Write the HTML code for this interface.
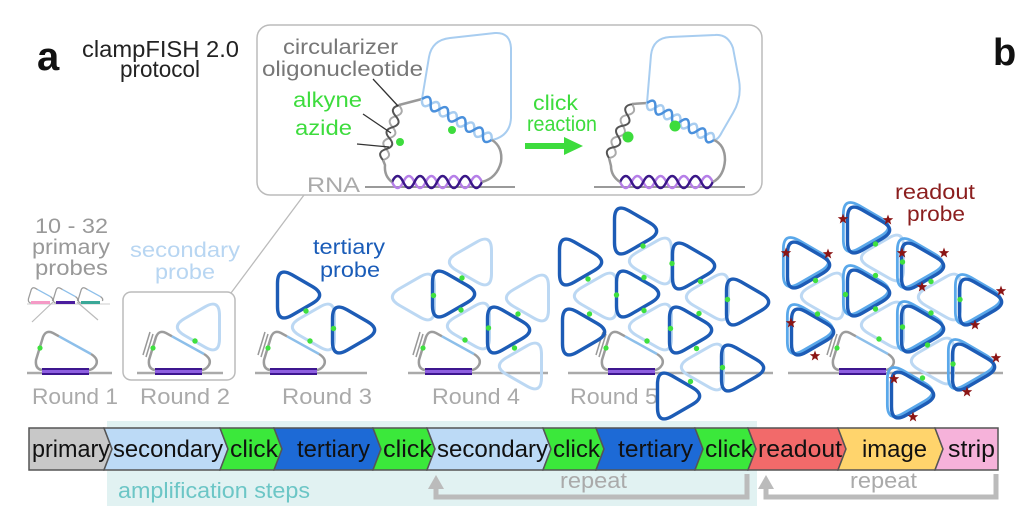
<!DOCTYPE html>
<html>
<head>
<meta charset="utf-8">
<style>
html,body{margin:0;padding:0;background:#fff;}
body{width:1024px;height:509px;overflow:hidden;}
svg{display:block;}
text{font-family:"Liberation Sans",Arial,sans-serif;}
</style>
</head>
<body>
<svg width="1024" height="509" viewBox="0 0 1024 509" xmlns="http://www.w3.org/2000/svg">
<defs>
  <path id="tr" d="M18.3,8.5 L-1.8,20.1 Q-16.5,28.6 -16.5,11.6 L-16.5,-11.6 Q-16.5,-28.6 -1.8,-20.1 L18.3,-8.5 Q33,0 18.3,8.5Z"/>
  <path id="tl" d="M-18.3,8.5 L1.8,20.1 Q16.5,28.6 16.5,11.6 L16.5,-11.6 Q16.5,-28.6 1.8,-20.1 L-18.3,-8.5 Q-33,0 -18.3,8.5Z"/>
  <g id="pr">
    <path d="M24,336.3 L18,333 Q11,329.5 8,337 L1,360 Q0,369 7,370" stroke="#9c9c9c" stroke-width="2.5" fill="none"/>
    <path d="M24,336.3 L56,354" stroke="#8dbfea" stroke-width="2.5" fill="none"/>
    <path d="M56,354 Q64,359 61,365 Q58,370 53,370" stroke="#9c9c9c" stroke-width="2.5" fill="none"/>
    <rect x="7" y="368.5" width="47" height="6" fill="#8d5ee0"/>
    <path d="M7,369 L54,369 M7,374 L54,374" stroke="#3d168f" stroke-width="2"/>
    <circle cx="5" cy="348" r="2.6" fill="#3fe03f"/>
  </g>
  <path id="cm" d="M-2,357 L5,334 M-5,355 L2,332" stroke="#999" stroke-width="1.5" fill="none"/>
  <polygon id="st" points="0,-5.5 1.35,-1.86 5.23,-1.7 2.19,0.71 3.23,4.45 0,2.3 -3.23,4.45 -2.19,0.71 -5.23,-1.7 -1.35,-1.86"/>
</defs>

<!-- panel labels -->
<text x="37" y="70" font-size="40" font-weight="bold" fill="#111">a</text>
<text x="993" y="65" font-size="38" font-weight="bold" fill="#111">b</text>
<text x="82" y="57" font-size="23" fill="#222" textLength="157" lengthAdjust="spacingAndGlyphs">clampFISH 2.0</text>
<text x="120" y="77" font-size="23" fill="#222" textLength="80" lengthAdjust="spacingAndGlyphs">protocol</text>

<!-- inset box -->
<rect x="257" y="25" width="505" height="170" rx="13" fill="#fff" stroke="#bbb" stroke-width="1.5"/>
<text x="283" y="54" font-size="21" fill="#777" textLength="115" lengthAdjust="spacingAndGlyphs">circularizer</text>
<text x="262" y="76" font-size="21" fill="#777" textLength="161" lengthAdjust="spacingAndGlyphs">oligonucleotide</text>
<text x="293" y="107" font-size="21" fill="#3ddc3d" textLength="69" lengthAdjust="spacingAndGlyphs">alkyne</text>
<text x="295" y="135" font-size="21" fill="#3ddc3d" textLength="57" lengthAdjust="spacingAndGlyphs">azide</text>
<text x="307" y="192" font-size="21" fill="#aaa" textLength="53" lengthAdjust="spacingAndGlyphs">RNA</text>
<text x="533" y="110" font-size="21" fill="#3ddc3d" textLength="45" lengthAdjust="spacingAndGlyphs">click</text>
<text x="527" y="131" font-size="21" fill="#3ddc3d" textLength="70" lengthAdjust="spacingAndGlyphs">reaction</text>
<path d="M525,146 L567,146" stroke="#3ddc3d" stroke-width="6"/>
<polygon points="564,137 583,146 564,155" fill="#3ddc3d"/>

<!-- left inset diagram -->
<path d="M365,187 L515,187" stroke="#9a9a9a" stroke-width="2"/>
<g transform="translate(392,182)" fill="none" stroke-width="2.5">
  <path d="M0,0 q5.6,12 11.25,0 t11.25,0 t11.25,0 t11.25,0 t11.25,0 t11.25,0 t11.25,0 t11.25,0" stroke="#b67fe8"/>
  <path d="M0,0 q5.6,-12 11.25,0 t11.25,0 t11.25,0 t11.25,0 t11.25,0 t11.25,0 t11.25,0 t11.25,0" stroke="#3a1788"/>
</g>
<path d="M392,182 Q384,176 385,165 L383,160" stroke="#999" stroke-width="2.5" fill="none"/>
<g transform="translate(383,160) rotate(-73.8)" fill="none" stroke-width="2">
  <path d="M0,0 q5.7,9 11.4,0 t11.4,0 t11.4,0 t11.4,0 t11.4,0" stroke="#aaa"/>
  <path d="M0,0 q5.7,-9 11.4,0 t11.4,0 t11.4,0 t11.4,0 t11.4,0" stroke="#555"/>
</g>
<path d="M399,105 L422,99" stroke="#999" stroke-width="2.5"/>
<path d="M422,99 L429,57 Q432,40 450,38 L495,33 Q510,32 511,48 L511,118 Q510,136 492,140" stroke="#a8cdf0" stroke-width="2" fill="none"/>
<g transform="translate(422,99) rotate(30.4)" fill="none" stroke-width="2.5">
  <path d="M0,0 q5,10 10.1,0 t10.1,0 t10.1,0 t10.1,0 t10.1,0 t10.1,0 t10.1,0 t10.1,0" stroke="#a8cdf0"/>
  <path d="M0,0 q5,-10 10.1,0 t10.1,0 t10.1,0 t10.1,0 t10.1,0 t10.1,0 t10.1,0 t10.1,0" stroke="#4a90dc"/>
</g>
<path d="M482,182 Q497,178 501,162 Q503,147 492,140" stroke="#999" stroke-width="2.5" fill="none"/>
<circle cx="400" cy="142" r="4" fill="#3ddc3d"/>
<circle cx="452" cy="130" r="4" fill="#3ddc3d"/>
<path d="M373,79 L398,106 M363,114 L391,133 M357,144 L389,147" stroke="#333" stroke-width="1.3" fill="none"/>

<!-- right inset diagram -->
<path d="M594,187 L745,187" stroke="#9a9a9a" stroke-width="2"/>
<g transform="translate(620,182)" fill="none" stroke-width="2.5">
  <path d="M0,0 q5.8,12 11.6,0 t11.6,0 t11.6,0 t11.6,0 t11.6,0 t11.6,0 t11.6,0 t11.6,0" stroke="#b67fe8"/>
  <path d="M0,0 q5.8,-12 11.6,0 t11.6,0 t11.6,0 t11.6,0 t11.6,0 t11.6,0 t11.6,0 t11.6,0" stroke="#3a1788"/>
</g>
<path d="M620,182 Q611,176 611,166 L609,158" stroke="#999" stroke-width="2.5" fill="none"/>
<g transform="translate(609,158) rotate(-66.9)" fill="none" stroke-width="2">
  <path d="M0,0 q5.85,9 11.7,0 t11.7,0 t11.7,0 t11.7,0 t11.7,0" stroke="#aaa"/>
  <path d="M0,0 q5.85,-9 11.7,0 t11.7,0 t11.7,0 t11.7,0 t11.7,0" stroke="#555"/>
</g>
<path d="M632,104 L647,103" stroke="#999" stroke-width="2.5"/>
<path d="M647,103 L651,55 Q653,38 670,37 L715,35 Q728,34 733,48 L739,80 Q742,98 733,113 L722,132 Q718,140 714,140" stroke="#a8cdf0" stroke-width="2" fill="none"/>
<g transform="translate(647,103) rotate(28.9)" fill="none" stroke-width="2.5">
  <path d="M0,0 q4.8,10 9.56,0 t9.56,0 t9.56,0 t9.56,0 t9.56,0 t9.56,0 t9.56,0 t9.56,0" stroke="#a8cdf0"/>
  <path d="M0,0 q4.8,-10 9.56,0 t9.56,0 t9.56,0 t9.56,0 t9.56,0 t9.56,0 t9.56,0 t9.56,0" stroke="#4a90dc"/>
</g>
<path d="M713,182 Q724,176 725,160 Q725,145 714,140" stroke="#999" stroke-width="2.5" fill="none"/>
<circle cx="628" cy="137" r="5.5" fill="#3ddc3d"/>
<circle cx="675" cy="126" r="5.5" fill="#3ddc3d"/>

<!-- connector line and round 2 box -->
<path d="M231,293 L304,195" stroke="#bbb" stroke-width="1.3"/>
<rect x="123" y="292" width="112" height="88" rx="8" fill="none" stroke="#bbb" stroke-width="1.5"/>

<!-- labels middle -->
<text x="35" y="233" font-size="21" fill="#999" textLength="73" lengthAdjust="spacingAndGlyphs">10 - 32</text>
<text x="32" y="254" font-size="21" fill="#999" textLength="78" lengthAdjust="spacingAndGlyphs">primary</text>
<text x="35" y="275" font-size="21" fill="#999" textLength="73" lengthAdjust="spacingAndGlyphs">probes</text>
<text x="130" y="257" font-size="21" fill="#b8d6f2" textLength="110" lengthAdjust="spacingAndGlyphs">secondary</text>
<text x="155" y="279" font-size="21" fill="#b8d6f2" textLength="60" lengthAdjust="spacingAndGlyphs">probe</text>
<text x="313" y="254" font-size="21" fill="#1a5cb8" textLength="72" lengthAdjust="spacingAndGlyphs">tertiary</text>
<text x="320" y="277" font-size="21" fill="#1a5cb8" textLength="60" lengthAdjust="spacingAndGlyphs">probe</text>
<text x="895" y="199" font-size="21" fill="#8b1e1e" textLength="80" lengthAdjust="spacingAndGlyphs">readout</text>
<text x="907" y="221" font-size="21" fill="#8b1e1e" textLength="58" lengthAdjust="spacingAndGlyphs">probe</text>

<text x="32" y="404" font-size="22" fill="#aaa" textLength="86" lengthAdjust="spacingAndGlyphs">Round 1</text>
<text x="140" y="404" font-size="22" fill="#aaa" textLength="90" lengthAdjust="spacingAndGlyphs">Round 2</text>
<text x="282" y="404" font-size="22" fill="#aaa" textLength="90" lengthAdjust="spacingAndGlyphs">Round 3</text>
<text x="432" y="404" font-size="22" fill="#aaa" textLength="88" lengthAdjust="spacingAndGlyphs">Round 4</text>
<text x="570" y="404" font-size="22" fill="#aaa" textLength="88" lengthAdjust="spacingAndGlyphs">Round 5</text>

<!-- primary mini probes -->
<path d="M27,304 L110,304" stroke="#ccc" stroke-width="1"/>
<g transform="translate(28,303) scale(0.4) translate(0,-370)"><path d="M24,336.3 L18,333 Q11,329.5 8,337 L1,360 Q0,369 7,370 M56,354 Q64,359 61,365" stroke="#9c9c9c" stroke-width="3.2" fill="none"/><path d="M24,336.3 L56,354" stroke="#8dbfea" stroke-width="3.2"/></g>
<g transform="translate(53,303) scale(0.4) translate(0,-370)"><path d="M24,336.3 L18,333 Q11,329.5 8,337 L1,360 Q0,369 7,370 M56,354 Q64,359 61,365" stroke="#9c9c9c" stroke-width="3.2" fill="none"/><path d="M24,336.3 L56,354" stroke="#8dbfea" stroke-width="3.2"/></g>
<g transform="translate(78,303) scale(0.4) translate(0,-370)"><path d="M24,336.3 L18,333 Q11,329.5 8,337 L1,360 Q0,369 7,370 M56,354 Q64,359 61,365" stroke="#9c9c9c" stroke-width="3.2" fill="none"/><path d="M24,336.3 L56,354" stroke="#8dbfea" stroke-width="3.2"/></g>
<path d="M31,302.5 L50,302.5" stroke="#f59ac6" stroke-width="3"/>
<path d="M56,302.5 L75,302.5" stroke="#4b1d9e" stroke-width="3"/>
<path d="M81,302.5 L100,302.5" stroke="#3aa898" stroke-width="3"/>
<path d="M32,322 L53,302 M77,302 L98,320" stroke="#bbb" stroke-width="1.2"/>

<!-- RNA lines -->
<g stroke="#aaa" stroke-width="2.5">
  <path d="M27,373 L112,373"/>
  <path d="M137,373 L223,373"/>
  <path d="M255,373 L367,373"/>
  <path d="M408,373 L548,373"/>
  <path d="M568,373 L773,373"/>
  <path d="M788,373 L1003,373"/>
</g>

<!-- light (secondary) triangles -->
<g fill="none" stroke="#bcd8f3" stroke-width="3">
  <use href="#tl" x="203" y="327"/>
  <use href="#tl" x="318" y="327"/>
  <use href="#tl" x="475" y="262"/>
  <use href="#tl" x="418" y="297"/>
  <use href="#tl" x="473" y="326"/>
  <use href="#tl" x="532" y="298"/>
  <use href="#tl" x="525" y="366"/>
  <use href="#tl" x="655" y="261"/>
  <use href="#tl" x="600" y="296"/>
  <use href="#tl" x="712" y="297"/>
  <use href="#tl" x="655" y="327"/>
  <use href="#tl" x="707" y="367"/>
  <use href="#tl" x="887" y="258"/>
  <use href="#tl" x="827" y="296"/>
  <use href="#tl" x="887" y="325"/>
  <use href="#tl" x="944" y="297"/>
  <use href="#tl" x="937" y="361"/>
</g>

<!-- base probes -->
<use href="#pr" x="35" y="0"/>
<use href="#pr" x="148" y="0"/>
<use href="#pr" x="263" y="0"/>
<use href="#pr" x="418" y="0"/>
<use href="#pr" x="601" y="0"/>
<use href="#pr" x="832" y="0"/>
<use href="#cm" x="148" y="0"/>
<use href="#cm" x="263" y="0"/>
<use href="#cm" x="418" y="0"/>
<use href="#cm" x="601" y="0"/>
<use href="#cm" x="832" y="0"/>

<!-- readout halos -->
<g fill="none" stroke="#5aa8ea" stroke-width="2.6">
  <use href="#tr" transform="translate(861,227) scale(1.07)"/>
  <use href="#tr" transform="translate(801,262) scale(1.07)"/>
  <use href="#tr" transform="translate(915,263) scale(1.07)"/>
  <use href="#tr" transform="translate(861,290) scale(1.07)"/>
  <use href="#tr" transform="translate(973,299) scale(1.07)"/>
  <use href="#tr" transform="translate(805,329) scale(1.07)"/>
  <use href="#tr" transform="translate(915,326) scale(1.07)"/>
  <use href="#tr" transform="translate(966,364) scale(1.07)"/>
  <use href="#tr" transform="translate(905,392) scale(1.07)"/>
</g>

<!-- dark (tertiary) triangles -->
<g fill="none" stroke="#1d5cb6" stroke-width="3.4">
  <use href="#tr" x="294" y="295"/>
  <use href="#tr" x="349" y="330"/>
  <use href="#tr" x="449" y="294"/>
  <use href="#tr" x="504" y="330"/>
  <use href="#tr" x="631" y="231"/>
  <use href="#tr" x="576" y="262"/>
  <use href="#tr" x="689" y="266"/>
  <use href="#tr" x="633" y="294"/>
  <use href="#tr" x="743" y="302"/>
  <use href="#tr" x="579" y="332"/>
  <use href="#tr" x="686" y="330"/>
  <use href="#tr" x="738" y="368"/>
  <use href="#tr" x="674" y="396"/>
  <use href="#tr" x="864" y="230"/>
  <use href="#tr" x="804" y="265"/>
  <use href="#tr" x="918" y="266"/>
  <use href="#tr" x="864" y="293"/>
  <use href="#tr" x="976" y="302"/>
  <use href="#tr" x="808" y="332"/>
  <use href="#tr" x="918" y="329"/>
  <use href="#tr" x="969" y="367"/>
  <use href="#tr" x="908" y="395"/>
</g>

<!-- green contact dots -->
<g fill="#3fe03f">
  <circle cx="195" cy="341" r="2.7"/>
  <circle cx="310" cy="341" r="2.7"/>
  <circle cx="306" cy="311" r="2.7"/>
  <circle cx="333.5" cy="328.5" r="2.7"/>
  <circle cx="465" cy="340" r="2.7"/>
  <circle cx="462" cy="278" r="2.7"/>
  <circle cx="433.5" cy="295.5" r="2.7"/>
  <circle cx="461" cy="310" r="2.7"/>
  <circle cx="488.5" cy="328" r="2.7"/>
  <circle cx="518" cy="314" r="2.7"/>
  <circle cx="514.5" cy="348" r="2.7"/>
  <circle cx="643" cy="246" r="2.7"/>
  <circle cx="588" cy="279" r="2.7"/>
  <circle cx="644" cy="277.5" r="2.7"/>
  <circle cx="616.5" cy="295" r="2.7"/>
  <circle cx="644" cy="310.5" r="2.7"/>
  <circle cx="672" cy="263.5" r="2.7"/>
  <circle cx="700.5" cy="281.5" r="2.7"/>
  <circle cx="727.5" cy="299.5" r="2.7"/>
  <circle cx="589.5" cy="314" r="2.7"/>
  <circle cx="670.5" cy="328.5" r="2.7"/>
  <circle cx="699" cy="313.5" r="2.7"/>
  <circle cx="696.5" cy="348.5" r="2.7"/>
  <circle cx="722.5" cy="367.5" r="2.7"/>
  <circle cx="690.5" cy="381.5" r="2.7"/>
  <circle cx="647" cy="341" r="2.7"/>
  <circle cx="875.5" cy="244" r="2.7"/>
  <circle cx="875.5" cy="275.5" r="2.7"/>
  <circle cx="902.5" cy="262" r="2.7"/>
  <circle cx="815.5" cy="280.5" r="2.7"/>
  <circle cx="845.5" cy="294.5" r="2.7"/>
  <circle cx="817.5" cy="314" r="2.7"/>
  <circle cx="875.5" cy="309" r="2.7"/>
  <circle cx="902.5" cy="327" r="2.7"/>
  <circle cx="931" cy="281.5" r="2.7"/>
  <circle cx="931" cy="313" r="2.7"/>
  <circle cx="960" cy="299.5" r="2.7"/>
  <circle cx="927.5" cy="345" r="2.7"/>
  <circle cx="953" cy="364" r="2.7"/>
  <circle cx="922.5" cy="378" r="2.7"/>
  <circle cx="879" cy="339" r="2.7"/>
</g>

<!-- readout stars -->
<g fill="#8b1515">
  <use href="#st" x="843" y="219"/>
  <use href="#st" x="888" y="220"/>
  <use href="#st" x="786" y="253"/>
  <use href="#st" x="828" y="254"/>
  <use href="#st" x="902" y="253"/>
  <use href="#st" x="944" y="253"/>
  <use href="#st" x="922" y="287"/>
  <use href="#st" x="1001" y="291"/>
  <use href="#st" x="791" y="323"/>
  <use href="#st" x="815" y="356"/>
  <use href="#st" x="975" y="325"/>
  <use href="#st" x="894" y="379"/>
  <use href="#st" x="996" y="358"/>
  <use href="#st" x="967" y="392"/>
  <use href="#st" x="913" y="417"/>
</g>

<!-- amplification shading -->
<rect x="107" y="421" width="650" height="85" fill="#e1f2f2"/>

<!-- protocol bar -->
<g stroke="#555" stroke-width="1.5" stroke-linejoin="miter">
  <polygon points="29,428 104,428 112,449 104,470 29,470" fill="#c8c8c8"/>
  <polygon points="104,428 220,428 228,449 220,470 104,470 112,449" fill="#bcdaf6"/>
  <polygon points="220,428 274,428 282,449 274,470 220,470 228,449" fill="#3be83b"/>
  <polygon points="274,428 373,428 381,449 373,470 274,470 282,449" fill="#1d6ad6"/>
  <polygon points="373,428 427,428 435,449 427,470 373,470 381,449" fill="#3be83b"/>
  <polygon points="427,428 543,428 551,449 543,470 427,470 435,449" fill="#bcdaf6"/>
  <polygon points="543,428 596,428 604,449 596,470 543,470 551,449" fill="#3be83b"/>
  <polygon points="596,428 695,428 703,449 695,470 596,470 604,449" fill="#1d6ad6"/>
  <polygon points="695,428 748,428 756,449 748,470 695,470 703,449" fill="#3be83b"/>
  <polygon points="748,428 838,428 846,449 838,470 748,470 756,449" fill="#f26a6a"/>
  <polygon points="838,428 935,428 943,449 935,470 838,470 846,449" fill="#ffd46c"/>
  <polygon points="935,428 998,428 998,470 935,470 943,449" fill="#f6b2da"/>
</g>
<g font-size="24" fill="#111">
  <text x="32" y="457" textLength="78" lengthAdjust="spacingAndGlyphs">primary</text>
  <text x="113" y="457" textLength="110" lengthAdjust="spacingAndGlyphs">secondary</text>
  <text x="230" y="457" textLength="48" lengthAdjust="spacingAndGlyphs">click</text>
  <text x="297" y="457" textLength="73" lengthAdjust="spacingAndGlyphs">tertiary</text>
  <text x="383" y="457" textLength="49" lengthAdjust="spacingAndGlyphs">click</text>
  <text x="437" y="457" textLength="111" lengthAdjust="spacingAndGlyphs">secondary</text>
  <text x="553" y="457" textLength="47" lengthAdjust="spacingAndGlyphs">click</text>
  <text x="618" y="457" textLength="75" lengthAdjust="spacingAndGlyphs">tertiary</text>
  <text x="705" y="457" textLength="48" lengthAdjust="spacingAndGlyphs">click</text>
  <text x="758" y="457" textLength="84" lengthAdjust="spacingAndGlyphs">readout</text>
  <text x="862" y="457" textLength="65" lengthAdjust="spacingAndGlyphs">image</text>
  <text x="948" y="457" textLength="47" lengthAdjust="spacingAndGlyphs">strip</text>
</g>

<!-- amplification / repeat -->
<text x="118" y="498" font-size="22" fill="#6cc6c6" textLength="192" lengthAdjust="spacingAndGlyphs">amplification steps</text>
<text x="560" y="488" font-size="22" fill="#aaa" textLength="67" lengthAdjust="spacingAndGlyphs">repeat</text>
<text x="850" y="488" font-size="22" fill="#aaa" textLength="67" lengthAdjust="spacingAndGlyphs">repeat</text>
<path d="M436,487 L436,497 L747,497 L747,474" stroke="#bbb" stroke-width="5" fill="none"/>
<polygon points="436,475 444,489 428,489" fill="#bbb"/>
<path d="M766,487 L766,497 L996,497 L996,474" stroke="#bbb" stroke-width="5" fill="none"/>
<polygon points="766,475 774,489 758,489" fill="#bbb"/>
</svg>
</body>
</html>
